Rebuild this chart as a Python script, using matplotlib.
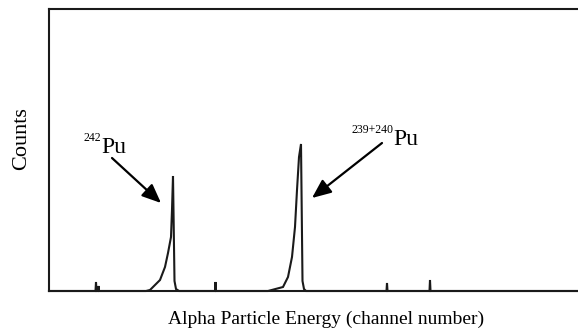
import matplotlib
matplotlib.use("Agg")
import matplotlib.pyplot as plt
from matplotlib.patches import ArrowStyle

plt.rcParams['font.family'] = ['Liberation Serif', 'DejaVu Serif']

# alpha spectrum (channel, counts)
channels = [0, 46.5, 47, 47.5, 49, 49.5, 50, 97, 101, 104, 111, 116, 119, 122, 123, 124,
            125.5, 127, 130, 166, 166.5, 167, 219, 234, 239, 243, 246, 248, 250, 252,
            253.5, 255, 257, 337.5, 338, 338.5, 380.5, 381, 381.5, 554]
counts = [0, 0, 9, 0, 0, 5, 0, 0, 1, 4, 11, 24, 38, 54, 81, 115,
          10, 2, 0, 0, 9, 0, 0, 4, 14, 34, 64, 101, 134, 147,
          10, 2, 0, 0, 8, 0, 0, 11, 0, 0]

# peak labels: (isotope mass, label pos, arrow tail, arrow tip)
peak_masses = ["242", "239+240"]
label_pos = [(52, 138), (344, 146)]
arrow_tail = [(63, 133), (333, 148)]
arrow_tip = [(112, 88), (263, 93)]

fig = plt.figure(figsize=(5.78, 3.30), dpi=100)
ax = fig.add_axes([49 / 578, 39 / 330, 554 / 578, 282 / 330])

ax.plot(channels, counts, color='#1a1a1a', lw=1.5, solid_joinstyle='miter', clip_on=False)

ax.set_xlim(0, 554)
ax.set_ylim(0, 282)
ax.set_xticks([])
ax.set_yticks([])
for side in ['left', 'bottom', 'top']:
    ax.spines[side].set_linewidth(1.5)
    ax.spines[side].set_color('#1a1a1a')
ax.spines['right'].set_visible(False)

ax.set_xlabel("Alpha Particle Energy (channel number)", fontsize=14)
ax.xaxis.set_label_coords(0.5, -0.07)
ax.set_ylabel("Counts", fontsize=16)
ax.yaxis.set_label_coords(-0.05, 0.54)
ax.yaxis.label.set_va('center')

style = ArrowStyle('-|>', head_length=1.05, head_width=0.45)
for mass, (lx, ly), tail, tip in zip(peak_masses, label_pos, arrow_tail, arrow_tip):
    ax.text(lx, ly, "Pu", fontsize=17, ha='left', va='baseline')
    ax.annotate(mass, xy=(lx, ly), xytext=(0, 8.5), textcoords='offset points',
                fontsize=8.5, ha='right', va='baseline')
    ax.annotate("", xy=tip, xytext=tail,
                arrowprops=dict(arrowstyle=style, mutation_scale=11, lw=1.6,
                                color='black', shrinkA=0, shrinkB=0))

fig.savefig("out.png", dpi=100)
